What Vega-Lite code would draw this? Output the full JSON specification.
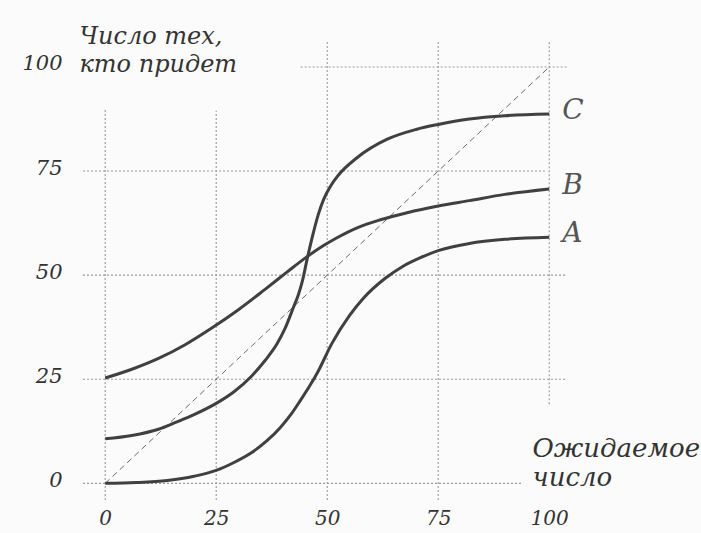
{
  "$schema": "https://vega.github.io/schema/vega-lite/v6.json",
  "width": 484,
  "height": 458,
  "autosize": "none",
  "padding": {"left": 83, "top": 42, "right": 134, "bottom": 33},
  "background": "#fbfbfb",
  "config": {
    "view": {"stroke": null},
    "axis": {
      "grid": false, "domain": false, "ticks": false,
      "labelFont": "DejaVu Serif", "labelFontStyle": "italic", "labelFontSize": 21,
      "labelColor": "#333333",
      "titleFont": "DejaVu Serif", "titleFontStyle": "italic", "titleFontWeight": "normal",
      "titleColor": "#333333",
      "titleAlign": "left", "titleBaseline": "alphabetic", "titleAngle": 0
    },
    "axisX": {"labelPadding": 8, "labelFontSize": 20, "titleX": 449, "titleY": -44, "titleFontSize": 26, "titleLineHeight": 29},
    "axisY": {"labelPadding": 21, "labelOffset": -3, "titleX": -4, "titleY": 1, "titleFontSize": 24, "titleLineHeight": 28}
  },
  "datasets": {
    "curves": [
      {"series": "A", "x": 0, "y": 0},
      {"series": "A", "x": 7, "y": 0.2},
      {"series": "A", "x": 14, "y": 0.7},
      {"series": "A", "x": 20, "y": 1.7},
      {"series": "A", "x": 25, "y": 3.1},
      {"series": "A", "x": 29, "y": 5},
      {"series": "A", "x": 33, "y": 7.4},
      {"series": "A", "x": 36.5, "y": 10.3},
      {"series": "A", "x": 39.5, "y": 13.5},
      {"series": "A", "x": 42, "y": 16.8},
      {"series": "A", "x": 44, "y": 20},
      {"series": "A", "x": 46, "y": 23.3},
      {"series": "A", "x": 48, "y": 27},
      {"series": "A", "x": 51, "y": 33.5},
      {"series": "A", "x": 55, "y": 40.3},
      {"series": "A", "x": 58, "y": 44.3},
      {"series": "A", "x": 63, "y": 49.2},
      {"series": "A", "x": 67, "y": 52.1},
      {"series": "A", "x": 71, "y": 54.2},
      {"series": "A", "x": 75, "y": 55.9},
      {"series": "A", "x": 82, "y": 57.6},
      {"series": "A", "x": 90, "y": 58.6},
      {"series": "A", "x": 100, "y": 59.1},
      {"series": "B", "x": 0, "y": 25.3},
      {"series": "B", "x": 6, "y": 27.4},
      {"series": "B", "x": 12, "y": 30},
      {"series": "B", "x": 18, "y": 33.3},
      {"series": "B", "x": 24, "y": 37.3},
      {"series": "B", "x": 30, "y": 41.7},
      {"series": "B", "x": 36, "y": 46.6},
      {"series": "B", "x": 41, "y": 50.8},
      {"series": "B", "x": 45.4, "y": 54.4},
      {"series": "B", "x": 49, "y": 57},
      {"series": "B", "x": 52.2, "y": 59},
      {"series": "B", "x": 57, "y": 61.5},
      {"series": "B", "x": 62, "y": 63.3},
      {"series": "B", "x": 68, "y": 65},
      {"series": "B", "x": 75, "y": 66.6},
      {"series": "B", "x": 82, "y": 67.9},
      {"series": "B", "x": 90, "y": 69.4},
      {"series": "B", "x": 100, "y": 70.7},
      {"series": "C", "x": 0, "y": 10.7},
      {"series": "C", "x": 6, "y": 11.5},
      {"series": "C", "x": 12, "y": 13},
      {"series": "C", "x": 16, "y": 14.7},
      {"series": "C", "x": 20, "y": 16.5},
      {"series": "C", "x": 25, "y": 19.2},
      {"series": "C", "x": 29, "y": 22},
      {"series": "C", "x": 33, "y": 25.8},
      {"series": "C", "x": 36, "y": 29.5},
      {"series": "C", "x": 38.7, "y": 33.5},
      {"series": "C", "x": 40.5, "y": 37.2},
      {"series": "C", "x": 42.4, "y": 42.3},
      {"series": "C", "x": 43.5, "y": 45.3},
      {"series": "C", "x": 44.5, "y": 49},
      {"series": "C", "x": 45.4, "y": 53.5},
      {"series": "C", "x": 46.9, "y": 60.3},
      {"series": "C", "x": 48, "y": 64.6},
      {"series": "C", "x": 49.2, "y": 68.2},
      {"series": "C", "x": 50.7, "y": 71.3},
      {"series": "C", "x": 52.5, "y": 74},
      {"series": "C", "x": 56.7, "y": 78.2},
      {"series": "C", "x": 63.4, "y": 82.6},
      {"series": "C", "x": 70, "y": 85},
      {"series": "C", "x": 75, "y": 86.2},
      {"series": "C", "x": 82, "y": 87.5},
      {"series": "C", "x": 90, "y": 88.3},
      {"series": "C", "x": 100, "y": 88.7}
    ],
    "hgrid": [
      {"y": 0, "x": -5, "xe": 94},
      {"y": 25, "x": -5, "xe": 104},
      {"y": 50, "x": -5, "xe": 104},
      {"y": 75, "x": -5, "xe": 99},
      {"y": 100, "x": 44, "xe": 104}
    ],
    "vgrid": [
      {"x": 0, "y": -4, "ye": 90},
      {"x": 25, "y": -4, "ye": 89.5},
      {"x": 50, "y": -4, "ye": 106},
      {"x": 75, "y": -4, "ye": 106},
      {"x": 100, "y": 19, "ye": 106}
    ],
    "diag": [
      {"x": 0, "y": 0},
      {"x": 100, "y": 100}
    ]
  },
  "layer": [
    {
      "data": {"name": "hgrid"},
      "mark": {"type": "rule", "stroke": "#9a9a9a", "strokeWidth": 1.1, "strokeDash": [2, 2]},
      "encoding": {
        "x": {"field": "x", "type": "quantitative",
          "scale": {"domain": [-5, 104], "nice": false, "zero": false},
          "axis": {"values": [0, 25, 50, 75, 100], "title": ["Ожидаемое", "число"]}
        },
        "x2": {"field": "xe"},
        "y": {"field": "y", "type": "quantitative",
          "scale": {"domain": [-4, 106], "nice": false, "zero": false},
          "axis": {"values": [0, 25, 50, 75, 100], "title": ["Число тех,", "кто придет"]}
        }
      }
    },
    {
      "data": {"name": "vgrid"},
      "mark": {"type": "rule", "stroke": "#9a9a9a", "strokeWidth": 1.1, "strokeDash": [2, 2]},
      "encoding": {
        "x": {"field": "x", "type": "quantitative"},
        "y": {"field": "y", "type": "quantitative"},
        "y2": {"field": "ye"}
      }
    },
    {
      "data": {"name": "diag"},
      "mark": {"type": "line", "stroke": "#6a6a6a", "strokeWidth": 1, "strokeDash": [6, 4]},
      "encoding": {
        "x": {"field": "x", "type": "quantitative"},
        "y": {"field": "y", "type": "quantitative"}
      }
    },
    {
      "data": {"name": "curves"},
      "mark": {"type": "line", "stroke": "#404040", "strokeWidth": 3, "interpolate": "monotone", "strokeCap": "butt"},
      "encoding": {
        "x": {"field": "x", "type": "quantitative"},
        "y": {"field": "y", "type": "quantitative"},
        "detail": {"field": "series"}
      }
    },
    {
      "data": {"name": "curves"},
      "transform": [{"filter": "datum.x == 100"}],
      "mark": {"type": "text", "align": "left", "baseline": "middle", "dx": 13, "dy": -3,
        "font": "DejaVu Serif", "fontStyle": "italic", "fontSize": 28, "fill": "#555555"},
      "encoding": {
        "x": {"field": "x", "type": "quantitative"},
        "y": {"field": "y", "type": "quantitative"},
        "text": {"field": "series"}
      }
    }
  ]
}
